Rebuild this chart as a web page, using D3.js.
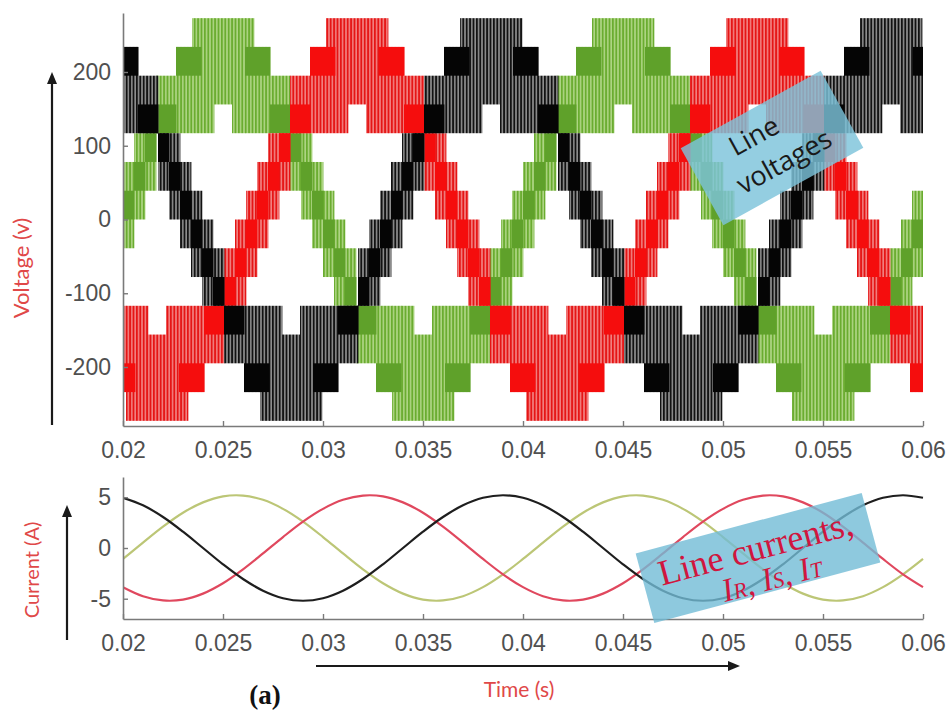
<!DOCTYPE html>
<html><head><meta charset="utf-8">
<script src="https://cdn.jsdelivr.net/npm/d3@7"></script>
<style>body{margin:0;background:#fff;}svg{display:block}</style>
</head><body>
<svg id="chart" width="950" height="711"></svg>
<script>
// ---------------- DATA ----------------
const xTicks = [0.02, 0.025, 0.03, 0.035, 0.04, 0.045, 0.05, 0.055, 0.06];
const xTickLabels = ["0.02", "0.025", "0.03", "0.035", "0.04", "0.045", "0.05", "0.055", "0.06"];
const voltTicks = [-200, -100, 0, 100, 200];
const voltTickLabels = ["-200", "-100", "0", "100", "200"];
const currTicks = [-5, 0, 5];
const currTickLabels = ["-5", "0", "5"];

// line voltage bands: [t0 (ms), t1 (ms), bandLow (V), bandHigh (V), denseLow (V), denseHigh (V)]
const redVoltage = [
 [19.35,20.15,-234,-117,-234,-195],[20.15,20.6,-273,-117,-234,-195],[20.6,21.25,-273,-117,null,null],
 [21.25,22.15,-273,-156,null,null],[22.15,22.8,-273,-117,null,null],[22.8,23.25,-273,-117,-234,-195],
 [23.25,24.05,-234,-117,-234,-195],[24.05,25.05,-195,-117,-156,-117],
 [25.05,25.6,-117,-39,-117,-78],[25.6,26.15,-117,0,-78,-39],[26.15,26.7,-78,39,-39,0],
 [26.7,27.25,-39,78,0,39],[27.25,27.8,0,117,39,78],[27.8,28.35,39,117,78,117],
 [28.35,29.35,117,195,117,156],[29.35,30.15,117,234,195,234],[30.15,30.6,117,273,195,234],
 [30.6,31.25,117,273,null,null],[31.25,32.15,156,273,null,null],[32.15,32.8,117,273,null,null],
 [32.8,33.25,117,273,195,234],[33.25,34.05,117,234,195,234],[34.05,35.05,117,195,117,156],
 [35.05,35.6,39,117,78,117],[35.6,36.15,0,117,39,78],[36.15,36.7,-39,78,0,39],
 [36.7,37.25,-78,39,-39,0],[37.25,37.8,-117,0,-78,-39],[37.8,38.35,-117,-39,-117,-78],
 [38.35,39.35,-195,-117,-156,-117],[39.35,40.15,-234,-117,-234,-195],[40.15,40.6,-273,-117,-234,-195],
 [40.6,41.25,-273,-117,null,null],[41.25,42.15,-273,-156,null,null],[42.15,42.8,-273,-117,null,null],
 [42.8,43.25,-273,-117,-234,-195],[43.25,44.05,-234,-117,-234,-195],[44.05,45.05,-195,-117,-156,-117],
 [45.05,45.6,-117,-39,-117,-78],[45.6,46.15,-117,0,-78,-39],[46.15,46.7,-78,39,-39,0],
 [46.7,47.25,-39,78,0,39],[47.25,47.8,0,117,39,78],[47.8,48.35,39,117,78,117],
 [48.35,49.35,117,195,117,156],[49.35,50.15,117,234,195,234],[50.15,50.6,117,273,195,234],
 [50.6,51.25,117,273,null,null],[51.25,52.15,156,273,null,null],[52.15,52.8,117,273,null,null],
 [52.8,53.25,117,273,195,234],[53.25,54.05,117,234,195,234],[54.05,55.05,117,195,117,156],
 [55.05,55.6,39,117,78,117],[55.6,56.15,0,117,39,78],[56.15,56.7,-39,78,0,39],
 [56.7,57.25,-78,39,-39,0],[57.25,57.8,-117,0,-78,-39],[57.8,58.35,-117,-39,-117,-78],
 [58.35,59.35,-195,-117,-156,-117],[59.35,60.15,-234,-117,-234,-195]
];
const greenVoltage = [
 [20.0,20.55,-39,78,0,39],[20.55,21.1,0,117,39,78],[21.1,21.65,39,117,78,117],
 [21.65,22.65,117,195,117,156],[22.65,23.45,117,234,195,234],[23.45,23.9,117,273,195,234],
 [23.9,24.55,117,273,null,null],[24.55,25.45,156,273,null,null],[25.45,26.1,117,273,null,null],
 [26.1,26.55,117,273,195,234],[26.55,27.35,117,234,195,234],[27.35,28.35,117,195,117,156],
 [28.35,28.9,39,117,78,117],[28.9,29.45,0,117,39,78],[29.45,30.0,-39,78,0,39],
 [30.0,30.55,-78,39,-39,0],[30.55,31.1,-117,0,-78,-39],[31.1,31.65,-117,-39,-117,-78],
 [31.65,32.65,-195,-117,-156,-117],[32.65,33.45,-234,-117,-234,-195],[33.45,33.9,-273,-117,-234,-195],
 [33.9,34.55,-273,-117,null,null],[34.55,35.45,-273,-156,null,null],[35.45,36.1,-273,-117,null,null],
 [36.1,36.55,-273,-117,-234,-195],[36.55,37.35,-234,-117,-234,-195],[37.35,38.35,-195,-117,-156,-117],
 [38.35,38.9,-117,-39,-117,-78],[38.9,39.45,-117,0,-78,-39],[39.45,40.0,-78,39,-39,0],
 [40.0,40.55,-39,78,0,39],[40.55,41.1,0,117,39,78],[41.1,41.65,39,117,78,117],
 [41.65,42.65,117,195,117,156],[42.65,43.45,117,234,195,234],[43.45,43.9,117,273,195,234],
 [43.9,44.55,117,273,null,null],[44.55,45.45,156,273,null,null],[45.45,46.1,117,273,null,null],
 [46.1,46.55,117,273,195,234],[46.55,47.35,117,234,195,234],[47.35,48.35,117,195,117,156],
 [48.35,48.9,39,117,78,117],[48.9,49.45,0,117,39,78],[49.45,50.0,-39,78,0,39],
 [50.0,50.55,-78,39,-39,0],[50.55,51.1,-117,0,-78,-39],[51.1,51.65,-117,-39,-117,-78],
 [51.65,52.65,-195,-117,-156,-117],[52.65,53.45,-234,-117,-234,-195],[53.45,53.9,-273,-117,-234,-195],
 [53.9,54.55,-273,-117,null,null],[54.55,55.45,-273,-156,null,null],[55.45,56.1,-273,-117,null,null],
 [56.1,56.55,-273,-117,-234,-195],[56.55,57.35,-234,-117,-234,-195],[57.35,58.35,-195,-117,-156,-117],
 [58.35,58.9,-117,-39,-117,-78],[58.9,59.45,-117,0,-78,-39],[59.45,60.0,-78,39,-39,0]
];
const blackVoltage = [
 [19.95,20.75,117,234,195,234],[20.75,21.75,117,195,117,156],
 [21.75,22.3,39,117,78,117],[22.3,22.85,0,117,39,78],[22.85,23.4,-39,78,0,39],
 [23.4,23.95,-78,39,-39,0],[23.95,24.5,-117,0,-78,-39],[24.5,25.05,-117,-39,-117,-78],
 [25.05,26.05,-195,-117,-156,-117],[26.05,26.85,-234,-117,-234,-195],[26.85,27.3,-273,-117,-234,-195],
 [27.3,27.95,-273,-117,null,null],[27.95,28.85,-273,-156,null,null],[28.85,29.5,-273,-117,null,null],
 [29.5,29.95,-273,-117,-234,-195],[29.95,30.75,-234,-117,-234,-195],[30.75,31.75,-195,-117,-156,-117],
 [31.75,32.3,-117,-39,-117,-78],[32.3,32.85,-117,0,-78,-39],[32.85,33.4,-78,39,-39,0],
 [33.4,33.95,-39,78,0,39],[33.95,34.5,0,117,39,78],[34.5,35.05,39,117,78,117],
 [35.05,36.05,117,195,117,156],[36.05,36.85,117,234,195,234],[36.85,37.3,117,273,195,234],
 [37.3,37.95,117,273,null,null],[37.95,38.85,156,273,null,null],[38.85,39.5,117,273,null,null],
 [39.5,39.95,117,273,195,234],[39.95,40.75,117,234,195,234],[40.75,41.75,117,195,117,156],
 [41.75,42.3,39,117,78,117],[42.3,42.85,0,117,39,78],[42.85,43.4,-39,78,0,39],
 [43.4,43.95,-78,39,-39,0],[43.95,44.5,-117,0,-78,-39],[44.5,45.05,-117,-39,-117,-78],
 [45.05,46.05,-195,-117,-156,-117],[46.05,46.85,-234,-117,-234,-195],[46.85,47.3,-273,-117,-234,-195],
 [47.3,47.95,-273,-117,null,null],[47.95,48.85,-273,-156,null,null],[48.85,49.5,-273,-117,null,null],
 [49.5,49.95,-273,-117,-234,-195],[49.95,50.75,-234,-117,-234,-195],[50.75,51.75,-195,-117,-156,-117],
 [51.75,52.3,-117,-39,-117,-78],[52.3,52.85,-117,0,-78,-39],[52.85,53.4,-78,39,-39,0],
 [53.4,53.95,-39,78,0,39],[53.95,54.5,0,117,39,78],[54.5,55.05,39,117,78,117],
 [55.05,56.05,117,195,117,156],[56.05,56.85,117,234,195,234],[56.85,57.3,117,273,195,234],
 [57.3,57.95,117,273,null,null],[57.95,58.85,156,273,null,null],[58.85,59.5,117,273,null,null],
 [59.5,59.95,117,273,195,234],[59.95,60.75,117,234,195,234]
];

// line currents sampled every 1 ms from 0.020 s to 0.060 s
const currentTimes = [0.020,0.021,0.022,0.023,0.024,0.025,0.026,0.027,0.028,0.029,
 0.030,0.031,0.032,0.033,0.034,0.035,0.036,0.037,0.038,0.039,
 0.040,0.041,0.042,0.043,0.044,0.045,0.046,0.047,0.048,0.049,
 0.050,0.051,0.052,0.053,0.054,0.055,0.056,0.057,0.058,0.059,0.060];
const currentR = [-3.86,-4.75,-5.17,-5.09,-4.50,-3.48,-2.11,-0.54,1.08,2.6,
 3.86,4.75,5.17,5.09,4.50,3.48,2.11,0.54,-1.08,-2.6,
 -3.86,-4.75,-5.17,-5.09,-4.50,-3.48,-2.11,-0.54,1.08,2.6,
 3.86,4.75,5.17,5.09,4.50,3.48,2.11,0.54,-1.08,-2.6,-3.86];
const currentS = [-1.08,0.54,2.11,3.48,4.50,5.09,5.17,4.75,3.86,2.6,
 1.08,-0.54,-2.11,-3.48,-4.50,-5.09,-5.17,-4.75,-3.86,-2.6,
 -1.08,0.54,2.11,3.48,4.50,5.09,5.17,4.75,3.86,2.6,
 1.08,-0.54,-2.11,-3.48,-4.50,-5.09,-5.17,-4.75,-3.86,-2.6,-1.08];
const currentT = [4.95,4.21,3.06,1.61,0,-1.61,-3.06,-4.21,-4.95,-5.2,
 -4.95,-4.21,-3.06,-1.61,0,1.61,3.06,4.21,4.95,5.2,
 4.95,4.21,3.06,1.61,0,-1.61,-3.06,-4.21,-4.95,-5.2,
 -4.95,-4.21,-3.06,-1.61,0,1.61,3.06,4.21,4.95,5.2,4.95];

// ---------------- DRAW ----------------
const svg = d3.select("#chart");
const x = d3.scaleLinear().domain([0.02, 0.06]).range([123, 923]);
const yV = d3.scaleLinear().domain([-280, 280]).range([426, 13]);
const yC = d3.scaleLinear().domain([-7, 7]).range([619, 477]);

const defs = svg.append("defs");
defs.append("clipPath").attr("id", "clipV").append("rect")
  .attr("x", 123).attr("y", 13).attr("width", 800).attr("height", 413);
defs.append("clipPath").attr("id", "clipC").append("rect")
  .attr("x", 123).attr("y", 477).attr("width", 801).attr("height", 142);

const phases = [
  {id: "g", segs: greenVoltage, dense: "#5fa12a", line: "#6aac30", bg: "#aed584"},
  {id: "r", segs: redVoltage, dense: "#f50d0d", line: "#e51515", bg: "#f28080"},
  {id: "k", segs: blackVoltage, dense: "#050505", line: "#121212", bg: "#8e8e8e"}
];
phases.forEach(p => {
  const pat = defs.append("pattern").attr("id", "pat-" + p.id)
    .attr("patternUnits", "userSpaceOnUse").attr("width", 3.4).attr("height", 10);
  pat.append("rect").attr("width", 3.4).attr("height", 10).attr("fill", p.bg);
  pat.append("rect").attr("width", 1.8).attr("height", 10).attr("fill", p.line);
});

const gV = svg.append("g").attr("clip-path", "url(#clipV)");
phases.forEach(p => {
  const g = gV.append("g");
  g.selectAll("rect.band").data(p.segs).join("rect").attr("class", "band")
    .attr("x", d => x(d[0] / 1000)).attr("width", d => x(d[1] / 1000) - x(d[0] / 1000) + 0.4)
    .attr("y", d => yV(d[3])).attr("height", d => yV(d[2]) - yV(d[3]))
    .attr("fill", "url(#pat-" + p.id + ")");
  g.selectAll("rect.dense").data(p.segs.filter(d => d[4] !== null)).join("rect").attr("class", "dense")
    .attr("x", d => x(d[0] / 1000)).attr("width", d => x(d[1] / 1000) - x(d[0] / 1000) + 0.4)
    .attr("y", d => yV(d[5])).attr("height", d => yV(d[4]) - yV(d[5]))
    .attr("fill", p.dense);
});

// axes
const axisColor = "#7a7a7a";
function styleAxis(g) {
  g.select(".domain").attr("stroke", axisColor).attr("stroke-width", 1.6);
  g.selectAll(".tick line").attr("stroke", axisColor).attr("stroke-width", 1.4);
  g.selectAll(".tick text").attr("fill", "#505050")
    .style("font-family", "'Liberation Sans', Arial, sans-serif").style("font-size", "23px");
}
svg.append("g").attr("transform", "translate(123,0)")
  .call(d3.axisLeft(yV).tickValues(voltTicks).tickFormat((d, i) => voltTickLabels[i])
    .tickSizeInner(-5).tickSizeOuter(0).tickPadding(12)).call(styleAxis);
svg.append("g").attr("transform", "translate(0,426)")
  .call(d3.axisBottom(x).tickValues(xTicks).tickFormat((d, i) => xTickLabels[i])
    .tickSizeInner(-5).tickSizeOuter(0).tickPadding(16)).call(styleAxis);

// currents
const gC = svg.append("g").attr("clip-path", "url(#clipC)");
const currents = [
  {vals: currentS, color: "#bcc676"},
  {vals: currentR, color: "#e0485e"},
  {vals: currentT, color: "#1e1e1e"}
];
const line = d3.line().curve(d3.curveCatmullRom)
  .x((d, i) => x(currentTimes[i])).y(d => yC(d));
currents.forEach(c => {
  gC.append("path").datum(c.vals).attr("d", line).attr("fill", "none")
    .attr("stroke", c.color).attr("stroke-width", 2.2);
});
svg.append("g").attr("transform", "translate(123,0)")
  .call(d3.axisLeft(yC).tickValues(currTicks).tickFormat((d, i) => currTickLabels[i])
    .tickSizeInner(-5).tickSizeOuter(0).tickPadding(12)).call(styleAxis);
svg.append("g").attr("transform", "translate(0,619)")
  .call(d3.axisBottom(x).tickValues(xTicks).tickFormat((d, i) => xTickLabels[i])
    .tickSizeInner(-5).tickSizeOuter(0).tickPadding(16)).call(styleAxis);

// annotation boxes
const vb = svg.append("g").attr("transform", "translate(772,148) rotate(-29)");
vb.append("rect").attr("x", -80).attr("y", -44).attr("width", 160).attr("height", 88)
  .attr("fill", "#7cc3da").attr("opacity", 0.82);
vb.append("text").attr("x", -10).attr("y", -10).attr("text-anchor", "middle")
  .style("font-family", "'Open Sans', sans-serif").style("font-size", "27px").attr("fill", "#1a1a1a").text("Line");
vb.append("text").attr("x", 4).attr("y", 27).attr("text-anchor", "middle")
  .style("font-family", "'Open Sans', sans-serif").style("font-size", "27px").attr("fill", "#1a1a1a").text("voltages");

const cb = svg.append("g").attr("transform", "translate(758,558) rotate(-15)");
cb.append("rect").attr("x", -117).attr("y", -36).attr("width", 234).attr("height", 72)
  .attr("fill", "#72bcd6").attr("opacity", 0.8);
cb.append("text").attr("x", 0).attr("y", 2).attr("text-anchor", "middle")
  .style("font-family", "'Liberation Serif', 'Times New Roman', serif").style("font-size", "36px")
  .attr("fill", "#d0163e").text("Line currents,");
const it = cb.append("text").attr("x", 8).attr("y", 34).attr("text-anchor", "middle")
  .style("font-family", "'Liberation Serif', 'Times New Roman', serif").style("font-size", "33px")
  .style("font-style", "italic").attr("fill", "#d0163e");
[["I", 33], ["R", 22], [", ", 33], ["I", 33], ["S", 22], [", ", 33], ["I", 33], ["T", 22]].forEach(s => {
  it.append("tspan").style("font-size", s[1] + "px").text(s[0]);
});

// axis titles and arrows
const titleFont = "Lato, 'Open Sans', sans-serif";
svg.append("text").attr("transform", "translate(29,268) rotate(-90)").attr("text-anchor", "middle")
  .style("font-family", titleFont).style("font-size", "22px").attr("fill", "#e04848").text("Voltage (v)");
svg.append("text").attr("transform", "translate(39,570) rotate(-90)").attr("text-anchor", "middle")
  .style("font-family", titleFont).style("font-size", "20px").attr("fill", "#e04848").text("Current (A)");
svg.append("text").attr("x", 519).attr("y", 697).attr("text-anchor", "middle")
  .style("font-family", titleFont).style("font-size", "21px").attr("fill", "#e04848").text("Time (s)");
svg.append("text").attr("x", 265).attr("y", 704).attr("text-anchor", "middle")
  .style("font-family", "'Liberation Serif', 'Times New Roman', serif").style("font-size", "27px")
  .style("font-weight", "bold").attr("fill", "#111").text("(a)");

function arrow(x1, y1, x2, y2) {
  const ang = Math.atan2(y2 - y1, x2 - x1);
  const L = 12, Wd = 5;
  const bx = x2 - L * Math.cos(ang), by = y2 - L * Math.sin(ang);
  svg.append("line").attr("x1", x1).attr("y1", y1).attr("x2", bx).attr("y2", by)
    .attr("stroke", "#1a1a1a").attr("stroke-width", 2.2);
  svg.append("path").attr("d", `M${x2},${y2}L${bx - Wd * Math.sin(ang)},${by + Wd * Math.cos(ang)}L${bx + Wd * Math.sin(ang)},${by - Wd * Math.cos(ang)}Z`)
    .attr("fill", "#1a1a1a");
}
arrow(52, 425, 52, 72);
arrow(67, 640, 67, 505);
arrow(316, 666, 740, 666);
</script>
</body></html>
